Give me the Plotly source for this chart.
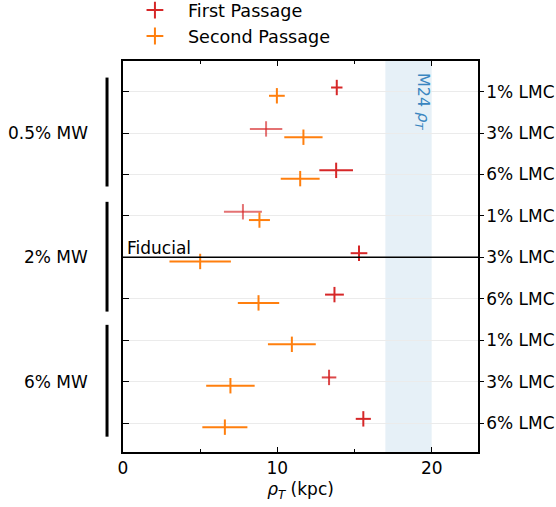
import plotly.graph_objects as go

# ---- data ----
lmc_labels = ["1% LMC", "3% LMC", "6% LMC"] * 3
mw_groups = ["0.5% MW", "2% MW", "6% MW"]
first_rho = [13.85, 9.27, 13.81, 7.77, 15.29, 13.70, None, 13.35, 15.57]
first_err = [0.37, 1.05, 1.09, 1.23, 0.54, 0.61, None, 0.47, 0.49]
first_alpha = [1.0, 0.65, 1.0, 0.65, 1.0, 1.0, 1.0, 0.85, 1.0]
second_rho = [9.97, 11.69, 11.48, 8.84, 5.00, 8.78, 10.94, 6.96, 6.60]
second_err = [0.51, 1.24, 1.26, 0.68, 1.99, 1.34, 1.55, 1.57, 1.46]
m24_band = [17, 20]
fiducial_row = 4

RED = (214, 39, 40)
ORANGE = (255, 127, 14)
FONT = "DejaVu Sans"
FS = 17

def rgba(c, a):
    return f"rgba({c[0]},{c[1]},{c[2]},{a})"

rows = list(range(len(lmc_labels)))
fig = go.Figure()

# first passage points (one trace per point to allow alpha)
for i, (x, e, a) in enumerate(zip(first_rho, first_err, first_alpha)):
    if x is None:
        continue
    fig.add_trace(go.Scatter(
        x=[x], y=[i - 0.1], mode="markers",
        marker=dict(symbol="line-ns", size=11, color=rgba(RED, a),
                    line=dict(width=2, color=rgba(RED, a))),
        error_x=dict(type="data", array=[e], color=rgba(RED, a), thickness=2, width=0),
        showlegend=False, hoverinfo="x"))

fig.add_trace(go.Scatter(
    x=second_rho, y=[r + 0.1 for r in rows], mode="markers",
    marker=dict(symbol="line-ns", size=11, color=rgba(ORANGE, 1),
                line=dict(width=2, color=rgba(ORANGE, 1))),
    error_x=dict(type="data", array=second_err, color=rgba(ORANGE, 1), thickness=2, width=0),
    showlegend=False, hoverinfo="x"))

# legend entries
for name, c in [("First Passage", RED), ("Second Passage", ORANGE)]:
    fig.add_trace(go.Scatter(
        x=[None], y=[None], mode="markers", name=name,
        marker=dict(symbol="cross-thin", size=16, color=rgba(c, 1),
                    line=dict(width=1.8, color=rgba(c, 1)))))

# invisible trace for left inside ticks axis
fig.add_trace(go.Scatter(x=[None], y=[None], yaxis="y2", showlegend=False, hoverinfo="skip"))

shapes = [
    dict(type="rect", xref="x", yref="paper", x0=m24_band[0], x1=m24_band[1], y0=0, y1=1,
         fillcolor="rgba(31,119,180,0.11)", line=dict(width=0), layer="below"),
    dict(type="line", xref="paper", yref="y", x0=0, x1=1, y0=fiducial_row, y1=fiducial_row,
         line=dict(color="black", width=1.5)),
]
group_spans = [(-0.34, 2.29), (2.66, 5.31), (5.63, 8.33)]
for (y0, y1) in group_spans:
    shapes.append(dict(type="line", xref="paper", yref="y", x0=-0.045, x1=-0.045,
                       y0=y0, y1=y1, line=dict(color="black", width=3)))

annotations = [
    dict(text="Fiducial", xref="x", yref="y", x=0.1, y=fiducial_row, xanchor="left",
         yanchor="bottom", showarrow=False, font=dict(size=FS, color="black", family=FONT),
         yshift=-3),
    dict(text="M24 <i>ρ</i><sub><i>T</i></sub>", xref="x", yref="paper", x=19.45, y=0.975,
         xanchor="center", yanchor="top", textangle=90, showarrow=False,
         font=dict(size=16, color="#3a86c0", family=FONT)),
]
for g, name in enumerate(mw_groups):
    annotations.append(dict(text=name, xref="paper", yref="y", x=-0.093, y=3 * g + 1,
                            xanchor="right", yanchor="middle", showarrow=False,
                            font=dict(size=FS, color="black", family=FONT)))

fig.update_layout(
    width=556, height=507,
    margin=dict(l=123, r=78, t=61, b=55, autoexpand=False),
    paper_bgcolor="white", plot_bgcolor="white",
    font=dict(family=FONT, size=FS, color="black"),
    showlegend=True,
    legend=dict(x=-0.003, y=1.176, xanchor="left", yanchor="top", bgcolor="rgba(0,0,0,0)",
                font=dict(size=17.6, family=FONT), tracegroupgap=0, itemsizing="constant",
                itemwidth=56),
    xaxis=dict(range=[0, 23], tickvals=[0, 10, 20], ticks="inside", ticklen=5, tickwidth=1.2,
               tickcolor="black", showline=True, linecolor="black", linewidth=1.5,
               mirror="ticks", showgrid=False, zeroline=False,
               minor=dict(tickvals=[5, 15], ticks="inside", ticklen=3, tickcolor="black",
                          showgrid=False),
               title=dict(text="<i>ρ</i><sub><i>T</i></sub> (kpc)", font=dict(size=FS), standoff=6),
               tickfont=dict(size=FS)),
    yaxis=dict(range=[8.70, -0.74], tickvals=rows, ticktext=lmc_labels, side="right",
               ticks="outside", ticklen=4, tickwidth=1.2, tickcolor="black",
               showline=True, linecolor="black", linewidth=1.5, mirror=True,
               showgrid=True, gridcolor="#ebebeb", gridwidth=1, zeroline=False,
               ticklabelstandoff=-1, tickfont=dict(size=FS)),
    yaxis2=dict(range=[8.70, -0.74], overlaying="y", side="left", anchor="x",
                tickvals=rows, ticks="inside", ticklen=6, tickwidth=1.2, tickcolor="black",
                showticklabels=False, showgrid=False, zeroline=False, showline=False),
    shapes=shapes, annotations=annotations,
)

fig.write_html("out.html")
